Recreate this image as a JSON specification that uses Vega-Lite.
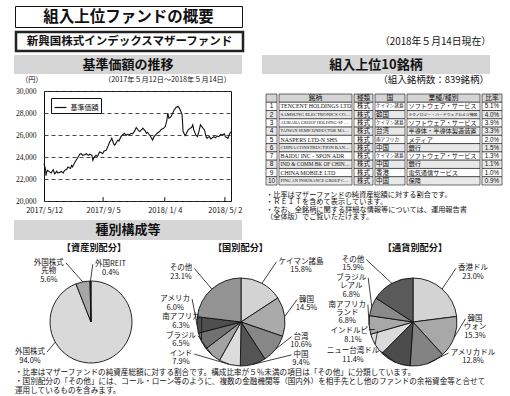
{
"$schema":"https://vega.github.io/schema/vega-lite/v6.json",
"padding":0,"background":"white","spacing":0,
"resolve":{"scale":{"color":"independent","theta":"independent"},"legend":{"color":"independent"}},
"config":{"font":"Noto Sans CJK JP","view":{"stroke":null},"concat":{"spacing":0},"text":{"font":"Noto Sans CJK JP","color":"#111"},"axis":{"labelColor":"#111","labelFont":"Noto Sans CJK JP"}},
"datasets":{
"nav":[{"d":"2017-05-12","v":23400},{"d":"2017-05-15","v":22900},{"d":"2017-05-16","v":22300},{"d":"2017-05-17","v":22600},{"d":"2017-05-19","v":22780},{"d":"2017-05-23","v":22650},{"d":"2017-05-26","v":22550},{"d":"2017-05-30","v":22850},{"d":"2017-06-02","v":22460},{"d":"2017-06-06","v":22700},{"d":"2017-06-08","v":22550},{"d":"2017-06-12","v":22600},{"d":"2017-06-15","v":22680},{"d":"2017-06-19","v":22550},{"d":"2017-06-21","v":22770},{"d":"2017-06-26","v":22900},{"d":"2017-06-28","v":23080},{"d":"2017-07-03","v":22950},{"d":"2017-07-05","v":23230},{"d":"2017-07-07","v":23100},{"d":"2017-07-11","v":23480},{"d":"2017-07-14","v":23700},{"d":"2017-07-18","v":24000},{"d":"2017-07-21","v":24250},{"d":"2017-07-24","v":24300},{"d":"2017-07-27","v":24150},{"d":"2017-07-31","v":24210},{"d":"2017-08-03","v":24300},{"d":"2017-08-07","v":24150},{"d":"2017-08-10","v":24250},{"d":"2017-08-14","v":24150},{"d":"2017-08-16","v":23700},{"d":"2017-08-18","v":23950},{"d":"2017-08-22","v":24150},{"d":"2017-08-25","v":24050},{"d":"2017-08-29","v":24460},{"d":"2017-09-01","v":24400},{"d":"2017-09-04","v":24300},{"d":"2017-09-07","v":24550},{"d":"2017-09-11","v":24600},{"d":"2017-09-14","v":24900},{"d":"2017-09-18","v":25380},{"d":"2017-09-20","v":25500},{"d":"2017-09-22","v":25700},{"d":"2017-09-25","v":25300},{"d":"2017-09-27","v":25080},{"d":"2017-09-29","v":25150},{"d":"2017-10-04","v":25540},{"d":"2017-10-06","v":25450},{"d":"2017-10-10","v":25850},{"d":"2017-10-13","v":26000},{"d":"2017-10-17","v":26150},{"d":"2017-10-20","v":25950},{"d":"2017-10-23","v":26060},{"d":"2017-10-26","v":26000},{"d":"2017-10-30","v":26150},{"d":"2017-11-02","v":26100},{"d":"2017-11-06","v":26370},{"d":"2017-11-09","v":26680},{"d":"2017-11-13","v":26450},{"d":"2017-11-16","v":26310},{"d":"2017-11-20","v":26500},{"d":"2017-11-22","v":26620},{"d":"2017-11-27","v":26350},{"d":"2017-11-29","v":26150},{"d":"2017-12-01","v":26250},{"d":"2017-12-05","v":26000},{"d":"2017-12-08","v":25800},{"d":"2017-12-11","v":25540},{"d":"2017-12-14","v":25850},{"d":"2017-12-18","v":26060},{"d":"2017-12-21","v":26200},{"d":"2017-12-25","v":26310},{"d":"2017-12-28","v":26500},{"d":"2018-01-02","v":26620},{"d":"2018-01-05","v":26770},{"d":"2018-01-08","v":27300},{"d":"2018-01-10","v":28000},{"d":"2018-01-12","v":27540},{"d":"2018-01-16","v":27650},{"d":"2018-01-18","v":27850},{"d":"2018-01-23","v":28310},{"d":"2018-01-26","v":28500},{"d":"2018-01-30","v":28620},{"d":"2018-02-02","v":28400},{"d":"2018-02-05","v":28100},{"d":"2018-02-07","v":27850},{"d":"2018-02-09","v":26310},{"d":"2018-02-13","v":25940},{"d":"2018-02-16","v":26200},{"d":"2018-02-19","v":26460},{"d":"2018-02-23","v":26620},{"d":"2018-02-26","v":26700},{"d":"2018-02-28","v":26920},{"d":"2018-03-02","v":26460},{"d":"2018-03-06","v":26000},{"d":"2018-03-09","v":25850},{"d":"2018-03-12","v":26310},{"d":"2018-03-15","v":26920},{"d":"2018-03-20","v":26620},{"d":"2018-03-23","v":26460},{"d":"2018-03-26","v":25850},{"d":"2018-03-28","v":25690},{"d":"2018-03-30","v":25800},{"d":"2018-04-02","v":25850},{"d":"2018-04-04","v":25650},{"d":"2018-04-06","v":25690},{"d":"2018-04-10","v":25850},{"d":"2018-04-13","v":25750},{"d":"2018-04-17","v":25900},{"d":"2018-04-20","v":25850},{"d":"2018-04-24","v":26050},{"d":"2018-04-27","v":26000},{"d":"2018-05-01","v":26100},{"d":"2018-05-03","v":25850},{"d":"2018-05-08","v":25700},{"d":"2018-05-11","v":26060},{"d":"2018-05-14","v":26310}],
"top10":[
{"r":0,"no":"","name":"銘柄","type":"種類","country":"国","sector":"業種/種別","ratio":"比率"},
{"r":1,"no":"1","name":"TENCENT HOLDINGS LTD","type":"株式","country":"ケイマン諸島","sector":"ソフトウェア・サービス","ratio":"5.1%"},
{"r":2,"no":"2","name":"SAMSUNG ELECTRONICS CO LTD","type":"株式","country":"韓国","sector":"テクノロジー・ハードウェアおよび機器","ratio":"4.0%"},
{"r":3,"no":"3","name":"ALIBABA GROUP HOLDING-SP ADR","type":"株式","country":"ケイマン諸島","sector":"ソフトウェア・サービス","ratio":"3.9%"},
{"r":4,"no":"4","name":"TAIWAN SEMICONDUCTOR MANUFAC","type":"株式","country":"台湾","sector":"半導体・半導体製造装置","ratio":"3.3%"},
{"r":5,"no":"5","name":"NASPERS LTD-N SHS","type":"株式","country":"南アフリカ","sector":"メディア","ratio":"2.0%"},
{"r":6,"no":"6","name":"CHINA CONSTRUCTION BANK-H","type":"株式","country":"中国","sector":"銀行","ratio":"1.5%"},
{"r":7,"no":"7","name":"BAIDU INC - SPON ADR","type":"株式","country":"ケイマン諸島","sector":"ソフトウェア・サービス","ratio":"1.3%"},
{"r":8,"no":"8","name":"IND & COMM BK OF CHINA-H","type":"株式","country":"中国","sector":"銀行","ratio":"1.1%"},
{"r":9,"no":"9","name":"CHINA MOBILE LTD","type":"株式","country":"香港","sector":"電気通信サービス","ratio":"1.0%"},
{"r":10,"no":"10","name":"PING AN INSURANCE GROUP CO-H","type":"株式","country":"中国","sector":"保険","ratio":"0.9%"}]
},
"vconcat":[
{"width":14,"height":5,"data":{"values":[]},"mark":"text"},
{"spacing":0,"hconcat":[
  {"width":14,"height":21,"data":{"values":[]},"mark":"text"},
  {"width":227,"height":21,"view":{"stroke":"#111","strokeWidth":1},"data":{"values":[{"t":"組入上位ファンドの概要"}]},"mark":{"type":"text","fontSize":15.5,"fontWeight":"bold"},"encoding":{"text":{"field":"t"}}}
]},
{"width":14,"height":2,"data":{"values":[]},"mark":"text"},
{"spacing":0,"hconcat":[
  {"width":14,"height":19,"data":{"values":[]},"mark":"text"},
  {"width":227,"height":19,"view":{"stroke":"#222","strokeWidth":2.5},"data":{"values":[{"t":"新興国株式インデックスマザーファンド"}]},"mark":{"type":"text","fontSize":11.5,"fontWeight":"bold"},"encoding":{"text":{"field":"t"}}},
  {"width":246,"height":19,"data":{"values":[{"t":"（2018年５月14日現在）"}]},"mark":{"type":"text","fontSize":9.8,"align":"right","x":"width"},"encoding":{"text":{"field":"t"}}}
]},
{"width":14,"height":2,"data":{"values":[]},"mark":"text"},
{"spacing":0,"hconcat":[
  {"width":14,"height":19,"data":{"values":[]},"mark":"text"},
  {"width":228,"height":19,"view":{"fill":"#d6d6d6","stroke":null},"data":{"values":[{"t":"基準価額の推移"}]},"mark":{"type":"text","fontSize":13,"fontWeight":"bold"},"encoding":{"text":{"field":"t"}}},
  {"width":20,"height":19,"data":{"values":[]},"mark":"text"},
  {"width":228,"height":19,"view":{"fill":"#d6d6d6","stroke":null},"data":{"values":[{"t":"組入上位10銘柄"}]},"mark":{"type":"text","fontSize":13,"fontWeight":"bold"},"encoding":{"text":{"field":"t"}}}
]},
{"spacing":0,"hconcat":[
  {"width":21,"height":12,"data":{"values":[]},"mark":"text"},
  {"width":210,"height":12,"layer":[
    {"data":{"values":[{"t":"（円）"}]},"mark":{"type":"text","fontSize":7.2,"align":"left","x":0},"encoding":{"text":{"field":"t"}}},
    {"data":{"values":[{"t":"（2017年５月12日～2018年５月14日）"}]},"mark":{"type":"text","fontSize":7.2,"align":"right","x":"width"},"encoding":{"text":{"field":"t"}}}
  ]},
  {"width":31,"height":12,"data":{"values":[]},"mark":"text"},
  {"width":227,"height":12,"data":{"values":[{"t":"（組入銘柄数：839銘柄）"}]},"mark":{"type":"text","fontSize":9.5,"align":"right","x":"width"},"encoding":{"text":{"field":"t"}}}
]},
{"spacing":0,"resolve":{"scale":{"color":"independent"},"legend":{"color":"independent"}},"hconcat":[
  {"width":14,"height":110,"data":{"values":[]},"mark":"text"},
  {"width":187,"height":110,"view":{"stroke":"#111","strokeWidth":1},
   "layer":[
    {"data":{"name":"nav"},"mark":{"type":"line","strokeWidth":1.1},
     "encoding":{
      "x":{"field":"d","type":"temporal","scale":{"type":"utc","domain":[{"year":2017,"month":5,"date":12,"utc":true},{"year":2018,"month":5,"date":14,"utc":true}]},
           "axis":{"values":[{"year":2017,"month":5,"date":12,"utc":true},{"year":2017,"month":9,"date":5,"utc":true},{"year":2018,"month":1,"date":4,"utc":true},{"year":2018,"month":5,"date":2,"utc":true}],
                   "labelExpr":"utcFormat(datum.value, '%Y/') + (utcmonth(datum.value) < 9 ? ' ' : '') + (utcmonth(datum.value)+1) + '/' + (utcdate(datum.value) < 10 ? ' ' : '') + utcdate(datum.value)",
                   "grid":false,"ticks":false,"domain":false,"labelPadding":5,"labelFontSize":7.5,"title":null,"labelOverlap":false,"labelFlush":false,"labelBound":false}},
      "y":{"field":"v","type":"quantitative","scale":{"domain":[20000,30000],"nice":false,"zero":false},
           "axis":{"values":[20000,22000,24000,26000,28000,30000],"labelExpr":"format(datum.value, ',')","labelOverlap":false,"labelFontSize":7.5,"labelFont":"Liberation Sans Narrow","ticks":false,"domain":false,"labelPadding":8,"grid":true,"gridDash":[4,3],"gridColor":"#333","gridWidth":0.9,"title":null}},
      "color":{"datum":"基準価額","scale":{"range":["#111"]},
               "legend":{"orient":"top-left","offset":7,"title":null,"symbolType":"stroke","symbolSize":140,"symbolStrokeWidth":1.2,"labelFontSize":7,"labelFont":"Noto Sans CJK JP","strokeColor":"#111","fillColor":"white","padding":2.5,"labelOffset":3,"labelColor":"#111"}}
     }},
    {"data":{"values":[{"d":"2017-09-05"},{"d":"2018-01-04"},{"d":"2018-05-02"}]},"mark":{"type":"rule","color":"#111","strokeWidth":1},
     "encoding":{"x":{"field":"d","type":"temporal"},
      "y":{"datum":20000,"type":"quantitative","axis":{"values":[20000,22000,24000,26000,28000,30000],"labelExpr":"format(datum.value, ',')","labelOverlap":false,"labelFontSize":7.5,"labelFont":"Liberation Sans Narrow","ticks":false,"domain":false,"labelPadding":8,"grid":true,"gridDash":[4,3],"gridColor":"#333","gridWidth":0.9,"title":null}},
      "y2":{"datum":20350}}}
   ]},
  {"width":22,"height":110,"data":{"values":[]},"mark":"text"},
  {"spacing":0,"vconcat":[
    {"width":10,"height":1.25,"data":{"values":[]},"mark":"text"},
    {"spacing":0,"hconcat":[
      {"width":11,"height":91,"data":{"name":"top10"},
       "encoding":{"y":{"field":"r","type":"ordinal","scale":{"paddingInner":0,"paddingOuter":0},"axis":null}},
       "layer":[
        {"mark":{"type":"rect","stroke":"#111","strokeWidth":0.6},"encoding":{"fill":{"condition":[{"test":"datum.r == 0","value":"#d4d4d4"},{"test":"datum.r % 2 == 0","value":"#e8e8e8"}],"value":"#ffffff"}}},
        {"mark":{"type":"text","fontSize":6.5,"font":"Liberation Sans","limit":10},"encoding":{"text":{"field":"no"}}}
       ]},
      {"width":73,"height":91,"data":{"name":"top10"},
       "encoding":{"y":{"field":"r","type":"ordinal","scale":{"paddingInner":0,"paddingOuter":0},"axis":null}},
       "layer":[
        {"mark":{"type":"rect","stroke":"#111","strokeWidth":0.6},"encoding":{"fill":{"condition":[{"test":"datum.r == 0","value":"#d4d4d4"},{"test":"datum.r % 2 == 0","value":"#e8e8e8"}],"value":"#ffffff"}}},
        {"transform":[{"filter":"datum.r == 0"}],"mark":{"type":"text","fontSize":6.8},"encoding":{"text":{"field":"name"}}},
        {"transform":[{"filter":"datum.r > 0"}],"mark":{"type":"text","align":"left","x":1.5,"font":"Liberation Sans Narrow","limit":71},
         "encoding":{"text":{"field":"name"},"size":{"condition":[{"test":"length(datum.name) >= 27","value":4.4},{"test":"length(datum.name) >= 25","value":4.8},{"test":"length(datum.name) >= 22","value":5.3}],"value":5.9}}}
       ]},
      {"width":19,"height":91,"data":{"name":"top10"},
       "encoding":{"y":{"field":"r","type":"ordinal","scale":{"paddingInner":0,"paddingOuter":0},"axis":null}},
       "layer":[
        {"mark":{"type":"rect","stroke":"#111","strokeWidth":0.6},"encoding":{"fill":{"condition":[{"test":"datum.r == 0","value":"#d4d4d4"},{"test":"datum.r % 2 == 0","value":"#e8e8e8"}],"value":"#ffffff"}}},
        {"mark":{"type":"text","fontSize":6.5,"limit":18},"encoding":{"text":{"field":"type"}}}
       ]},
      {"width":30,"height":91,"data":{"name":"top10"},
       "encoding":{"y":{"field":"r","type":"ordinal","scale":{"paddingInner":0,"paddingOuter":0},"axis":null}},
       "layer":[
        {"mark":{"type":"rect","stroke":"#111","strokeWidth":0.6},"encoding":{"fill":{"condition":[{"test":"datum.r == 0","value":"#d4d4d4"},{"test":"datum.r % 2 == 0","value":"#e8e8e8"}],"value":"#ffffff"}}},
        {"transform":[{"filter":"datum.r == 0"}],"mark":{"type":"text","fontSize":6.8},"encoding":{"text":{"field":"country"}}},
        {"transform":[{"filter":"datum.r > 0"}],"mark":{"type":"text","align":"left","x":1,"limit":29},
         "encoding":{"text":{"field":"country"},"size":{"condition":{"test":"length(datum.country) > 3","value":4.6},"value":6.5}}}
       ]},
      {"width":73,"height":91,"data":{"name":"top10"},
       "encoding":{"y":{"field":"r","type":"ordinal","scale":{"paddingInner":0,"paddingOuter":0},"axis":null}},
       "layer":[
        {"mark":{"type":"rect","stroke":"#111","strokeWidth":0.6},"encoding":{"fill":{"condition":[{"test":"datum.r == 0","value":"#d4d4d4"},{"test":"datum.r % 2 == 0","value":"#e8e8e8"}],"value":"#ffffff"}}},
        {"transform":[{"filter":"datum.r == 0"}],"mark":{"type":"text","fontSize":6.8},"encoding":{"text":{"field":"sector"}}},
        {"transform":[{"filter":"datum.r > 0"}],"mark":{"type":"text","align":"left","x":1.5,"limit":71},
         "encoding":{"text":{"field":"sector"},"size":{"condition":{"test":"length(datum.sector) > 12","value":3.85},"value":6.2}}}
       ]},
      {"width":20,"height":91,"data":{"name":"top10"},
       "encoding":{"y":{"field":"r","type":"ordinal","scale":{"paddingInner":0,"paddingOuter":0},"axis":null}},
       "layer":[
        {"mark":{"type":"rect","stroke":"#111","strokeWidth":0.6},"encoding":{"fill":{"condition":[{"test":"datum.r == 0","value":"#d4d4d4"},{"test":"datum.r % 2 == 0","value":"#e8e8e8"}],"value":"#ffffff"}}},
        {"transform":[{"filter":"datum.r == 0"}],"mark":{"type":"text","fontSize":6.8},"encoding":{"text":{"field":"ratio"}}},
        {"transform":[{"filter":"datum.r > 0"}],"mark":{"type":"text","fontSize":6.3,"font":"Liberation Sans","limit":19},"encoding":{"text":{"field":"ratio"}}}
       ]}
    ]},
    {"width":10,"height":5,"data":{"values":[]},"mark":"text"},
    {"width":230,"height":29,"data":{"values":[{"t":"・比率はマザーファンドの純資産総額に対する割合です。\n・ＲＥＩＴを含めて表示しています。\n・なお、全銘柄に関する詳細な情報等については、運用報告書\n （全体版）でご覧いただけます。"}]},
     "mark":{"type":"text","align":"left","baseline":"top","x":0,"y":0,"fontSize":7.2,"lineBreak":"\n","lineHeight":7.25},"encoding":{"text":{"field":"t"}}}
  ]}
]},
{"spacing":0,"hconcat":[
  {"width":14,"height":20,"data":{"values":[]},"mark":"text"},
  {"width":228,"height":20,"view":{"fill":"#d6d6d6","stroke":null},"data":{"values":[{"t":"種別構成等"}]},"mark":{"type":"text","fontSize":13,"fontWeight":"bold"},"encoding":{"text":{"field":"t"}}}
]},
{"width":14,"height":3,"data":{"values":[]},"mark":"text"},
{"spacing":0,"resolve":{"scale":{"color":"independent","theta":"independent"},"legend":{"color":"independent"}},"hconcat":[
    {"width":160,"height":115,
     "title":{"text":"【資産別配分】","fontSize":9.2,"fontWeight":"bold","font":"Noto Sans CJK JP","offset":1,"dx":14,"anchor":"middle","color":"#111"},
     "data":{"values":[{"i":1,"name":"外国株式","value":94.0},{"i":2,"name":"外国株式\n先物","value":5.6},{"i":3,"name":"外国REIT","value":0.4}]},
     "transform":[
      {"joinaggregate":[{"op":"sum","field":"value","as":"tot"}]},
      {"window":[{"op":"sum","field":"value","as":"cum"}],"sort":[{"field":"i"}],"frame":[null,0]},
      {"calculate":"2*PI*(datum.cum - datum.value/2)/datum.tot","as":"m"},
      {"calculate":"datum.value > 50 ? 4.2 : (datum.value > 1 ? 5.59 : 0.35)","as":"la"},
      {"calculate":"datum.value > 50 ? 70 : (datum.value > 1 ? 66 : 57)","as":"lr"},
      {"calculate":"datum.lr*sin(datum.la)","as":"lx"},
      {"calculate":"-datum.lr*cos(datum.la)","as":"ly"},
      {"calculate":"datum.value > 50 ? datum.la : datum.m","as":"ea"},
      {"calculate":"41*sin(datum.ea)","as":"ex"},
      {"calculate":"-41*cos(datum.ea)","as":"ey"},
      {"calculate":"datum.name + '\\n' + format(datum.value, '.1f') + '%'","as":"lab"},
      {"calculate":"length(split(datum.lab, '\\n'))","as":"nl"},
      {"calculate":"datum.ly - (datum.nl - 1)*4.2","as":"ty"},
      {"calculate":"split(datum.name, '\\n')[0]","as":"fl"},
      {"calculate":"length(replace(datum.fl, regexp('[ -~]','g'), ''))","as":"fw"},
      {"calculate":"(datum.fw + 0.55*(length(datum.fl) - datum.fw))*3.75 + 2","as":"hw"},
      {"calculate":"datum.lx - (datum.lx >= 0 ? 1 : -1)*datum.hw","as":"ax"},
      {"calculate":"datum.ty","as":"ay"}
     ],
     "layer":[
      {"mark":{"type":"arc","outerRadius":41,"stroke":"#111","strokeWidth":0.9},
       "encoding":{"theta":{"field":"value","type":"quantitative","stack":true},"order":{"field":"i","type":"quantitative"},
        "color":{"field":"name","type":"nominal","scale":{"domain":["外国株式","外国株式\n先物","外国REIT"],"range":["#d9d9d9","#a6a6a6","#3a3a3a"]},"legend":null},
        "x":{"datum":0,"type":"quantitative","scale":{"domain":[-91,69],"nice":false,"zero":false},"axis":null},
        "y":{"datum":0,"type":"quantitative","scale":{"domain":[-68,47],"nice":false,"zero":false,"reverse":true},"axis":null}}},
      {"mark":{"type":"rule","color":"#111","strokeWidth":0.8},
       "encoding":{"x":{"field":"ex","type":"quantitative","scale":{"domain":[-91,69],"nice":false,"zero":false},"axis":null},
        "y":{"field":"ey","type":"quantitative","scale":{"domain":[-68,47],"nice":false,"zero":false,"reverse":true},"axis":null},
        "x2":{"field":"ax"},"y2":{"field":"ay"}}},
      {"mark":{"type":"text","fontSize":7.5,"lineBreak":"\n","lineHeight":8.4},
       "encoding":{"x":{"field":"lx","type":"quantitative","scale":{"domain":[-91,69],"nice":false,"zero":false},"axis":null},
        "y":{"field":"ty","type":"quantitative","scale":{"domain":[-68,47],"nice":false,"zero":false,"reverse":true},"axis":null},
        "text":{"field":"lab"}}}
     ]},
    {"width":165,"height":115,
     "title":{"text":"【国別配分】","fontSize":9.2,"fontWeight":"bold","font":"Noto Sans CJK JP","offset":1,"dx":-2,"anchor":"middle","color":"#111"},
     "data":{"values":[{"i":1,"name":"ケイマン諸島","value":15.8},{"i":2,"name":"韓国","value":14.5},{"i":3,"name":"台湾","value":10.6},{"i":4,"name":"中国","value":9.4},{"i":5,"name":"インド","value":7.9},{"i":6,"name":"ブラジル","value":6.5},{"i":7,"name":"南アフリカ","value":6.3},{"i":8,"name":"アメリカ","value":6.0},{"i":9,"name":"その他","value":23.1}]},
     "transform":[
      {"joinaggregate":[{"op":"sum","field":"value","as":"tot"}]},
      {"window":[{"op":"sum","field":"value","as":"cum"}],"sort":[{"field":"i"}],"frame":[null,0]},
      {"calculate":"2*PI*(datum.cum - datum.value/2)/datum.tot","as":"m"},
      {"calculate":"sin(datum.m)","as":"s"},
      {"calculate":"cos(datum.m)","as":"c"},
      {"calculate":"datum.s >= 0 ? 1 : -1","as":"sg"},
      {"calculate":"datum.sg*max(abs(66*datum.s), 60)","as":"lx"},
      {"calculate":"-50*datum.c - 12","as":"f"},
      {"calculate":"datum.name + '\\n' + format(datum.value, '.1f') + '%'","as":"lab"},
      {"calculate":"length(split(datum.lab, '\\n'))","as":"nl"},
      {"calculate":"datum.nl*8.4 + 1.5","as":"h"},
      {"window":[{"op":"sum","field":"h","as":"cumH"}],"groupby":["sg"],"sort":[{"field":"m"}],"frame":[null,0]},
      {"calculate":"datum.cumH - datum.h/2","as":"C"},
      {"calculate":"datum.sg > 0 ? datum.f - datum.C : -datum.f - datum.C","as":"g"},
      {"window":[{"op":"max","field":"g","as":"gm"}],"groupby":["sg"],"sort":[{"field":"m"}],"frame":[null,0]},
      {"calculate":"datum.sg > 0 ? datum.C + datum.gm : -(datum.C + datum.gm)","as":"ly"},
      {"calculate":"datum.ly - (datum.nl - 1)*4.2","as":"ty"},
      {"calculate":"44*datum.s","as":"ex"},
      {"calculate":"-44*datum.c","as":"ey"},
      {"calculate":"split(datum.name, '\\n')[0]","as":"fl"},
      {"calculate":"length(replace(datum.fl, regexp('[ -~]','g'), ''))","as":"fw"},
      {"calculate":"(datum.fw + 0.55*(length(datum.fl) - datum.fw))*3.75 + 2","as":"hw"},
      {"calculate":"datum.lx - datum.sg*datum.hw","as":"ax"},
      {"calculate":"datum.ty","as":"ay"}
     ],
     "layer":[
      {"mark":{"type":"arc","outerRadius":44,"stroke":"#111","strokeWidth":0.9},
       "encoding":{"theta":{"field":"value","type":"quantitative","stack":true},"order":{"field":"i","type":"quantitative"},
        "color":{"field":"name","type":"nominal","scale":{"domain":["ケイマン諸島","韓国","台湾","中国","インド","ブラジル","南アフリカ","アメリカ","その他"],"range":["#d3d3d3","#aaaaaa","#878787","#545454","#dcdcdc","#a2a2a2","#717171","#4e4e4e","#939393"]},"legend":null},
        "x":{"datum":0,"type":"quantitative","scale":{"domain":[-81,84],"nice":false,"zero":false},"axis":null},
        "y":{"datum":0,"type":"quantitative","scale":{"domain":[-68,47],"nice":false,"zero":false,"reverse":true},"axis":null}}},
      {"mark":{"type":"rule","color":"#111","strokeWidth":0.8},
       "encoding":{"x":{"field":"ex","type":"quantitative","scale":{"domain":[-81,84],"nice":false,"zero":false},"axis":null},
        "y":{"field":"ey","type":"quantitative","scale":{"domain":[-68,47],"nice":false,"zero":false,"reverse":true},"axis":null},
        "x2":{"field":"ax"},"y2":{"field":"ay"}}},
      {"mark":{"type":"text","fontSize":7.5,"lineBreak":"\n","lineHeight":8.4},
       "encoding":{"x":{"field":"lx","type":"quantitative","scale":{"domain":[-81,84],"nice":false,"zero":false},"axis":null},
        "y":{"field":"ty","type":"quantitative","scale":{"domain":[-68,47],"nice":false,"zero":false,"reverse":true},"axis":null},
        "text":{"field":"lab"}}}
     ]},
    {"width":180,"height":115,
     "title":{"text":"【通貨別配分】","fontSize":9.2,"fontWeight":"bold","font":"Noto Sans CJK JP","offset":1,"dx":0,"anchor":"middle","color":"#111"},
     "data":{"values":[{"i":1,"name":"香港ドル","value":23.0},{"i":2,"name":"韓国\nウォン","value":15.3},{"i":3,"name":"アメリカドル","value":12.8},{"i":4,"name":"ニュー台湾ドル","value":11.4},{"i":5,"name":"インドルピー","value":8.1},{"i":6,"name":"南アフリカ\nランド","value":6.8},{"i":7,"name":"ブラジル\nレアル","value":6.8},{"i":8,"name":"その他","value":15.9}]},
     "transform":[
      {"joinaggregate":[{"op":"sum","field":"value","as":"tot"}]},
      {"window":[{"op":"sum","field":"value","as":"cum"}],"sort":[{"field":"i"}],"frame":[null,0]},
      {"calculate":"2*PI*(datum.cum - datum.value/2)/datum.tot","as":"m"},
      {"calculate":"sin(datum.m)","as":"s"},
      {"calculate":"cos(datum.m)","as":"c"},
      {"calculate":"datum.s >= 0 ? 1 : -1","as":"sg"},
      {"calculate":"datum.sg*max(abs(66*datum.s), 60)","as":"lx"},
      {"calculate":"-50*datum.c - 12","as":"f"},
      {"calculate":"datum.name + '\\n' + format(datum.value, '.1f') + '%'","as":"lab"},
      {"calculate":"length(split(datum.lab, '\\n'))","as":"nl"},
      {"calculate":"datum.nl*8.4 + 1.5","as":"h"},
      {"window":[{"op":"sum","field":"h","as":"cumH"}],"groupby":["sg"],"sort":[{"field":"m"}],"frame":[null,0]},
      {"calculate":"datum.cumH - datum.h/2","as":"C"},
      {"calculate":"datum.sg > 0 ? datum.f - datum.C : -datum.f - datum.C","as":"g"},
      {"window":[{"op":"max","field":"g","as":"gm"}],"groupby":["sg"],"sort":[{"field":"m"}],"frame":[null,0]},
      {"calculate":"datum.sg > 0 ? datum.C + datum.gm : -(datum.C + datum.gm)","as":"ly"},
      {"calculate":"datum.ly - (datum.nl - 1)*4.2","as":"ty"},
      {"calculate":"44*datum.s","as":"ex"},
      {"calculate":"-44*datum.c","as":"ey"},
      {"calculate":"split(datum.name, '\\n')[0]","as":"fl"},
      {"calculate":"length(replace(datum.fl, regexp('[ -~]','g'), ''))","as":"fw"},
      {"calculate":"(datum.fw + 0.55*(length(datum.fl) - datum.fw))*3.75 + 2","as":"hw"},
      {"calculate":"datum.lx - datum.sg*datum.hw","as":"ax"},
      {"calculate":"datum.ty","as":"ay"}
     ],
     "layer":[
      {"mark":{"type":"arc","outerRadius":44,"stroke":"#111","strokeWidth":0.9},
       "encoding":{"theta":{"field":"value","type":"quantitative","stack":true},"order":{"field":"i","type":"quantitative"},
        "color":{"field":"name","type":"nominal","scale":{"domain":["香港ドル","韓国\nウォン","アメリカドル","ニュー台湾ドル","インドルピー","南アフリカ\nランド","ブラジル\nレアル","その他"],"range":["#d3d3d3","#a8a8a8","#838383","#4c4c4c","#dadada","#a8a8a8","#8a8a8a","#5a5a5a"]},"legend":null},
        "x":{"datum":0,"type":"quantitative","scale":{"domain":[-88,92],"nice":false,"zero":false},"axis":null},
        "y":{"datum":0,"type":"quantitative","scale":{"domain":[-68,47],"nice":false,"zero":false,"reverse":true},"axis":null}}},
      {"mark":{"type":"rule","color":"#111","strokeWidth":0.8},
       "encoding":{"x":{"field":"ex","type":"quantitative","scale":{"domain":[-88,92],"nice":false,"zero":false},"axis":null},
        "y":{"field":"ey","type":"quantitative","scale":{"domain":[-68,47],"nice":false,"zero":false,"reverse":true},"axis":null},
        "x2":{"field":"ax"},"y2":{"field":"ay"}}},
      {"mark":{"type":"text","fontSize":7.5,"lineBreak":"\n","lineHeight":8.4},
       "encoding":{"x":{"field":"lx","type":"quantitative","scale":{"domain":[-88,92],"nice":false,"zero":false},"axis":null},
        "y":{"field":"ty","type":"quantitative","scale":{"domain":[-68,47],"nice":false,"zero":false,"reverse":true},"axis":null},
        "text":{"field":"lab"}}}
     ]}
]},
{"spacing":0,"hconcat":[
  {"width":15,"height":26,"data":{"values":[]},"mark":"text"},
  {"width":490,"height":26,"data":{"values":[{"t":"・比率はマザーファンドの純資産総額に対する割合です。構成比率が５％未満の項目は「その他」に分類しています。\n・国別配分の「その他」には、コール・ローン等のように、複数の金融機関等（国内外）を相手先とし他のファンドの余裕資金等と合せて\n　運用しているものを含みます。"}]},
   "mark":{"type":"text","align":"left","baseline":"top","x":0,"y":0,"fontSize":7.6,"lineBreak":"\n","lineHeight":9},"encoding":{"text":{"field":"t"}}}
]}
]
}
